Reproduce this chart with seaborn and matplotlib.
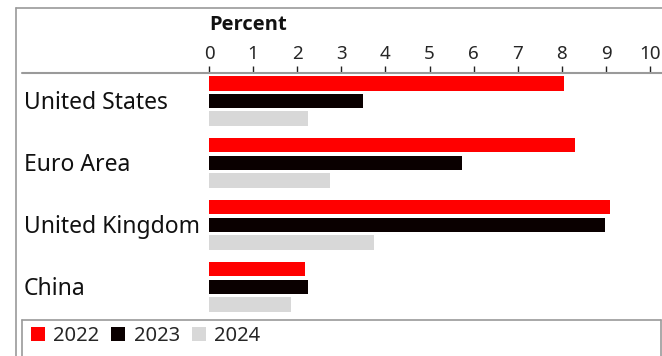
import matplotlib
matplotlib.use("Agg")
import matplotlib.pyplot as plt
from matplotlib.lines import Line2D
from matplotlib.patches import Patch
import seaborn as sns
import pandas as pd

categories = ["United States", "Euro Area", "United Kingdom", "China"]
years = ["2022", "2023", "2024"]
values_2022 = [8.05, 8.3, 9.1, 2.18]
values_2023 = [3.5, 5.73, 8.98, 2.25]
values_2024 = [2.25, 2.75, 3.73, 1.86]
xticks = [0, 1, 2, 3, 4, 5, 6, 7, 8, 9, 10]
colors = ["#ff0000", "#0a0000", "#d8d8d8"]

rows = []
for yr, vals in zip(years, [values_2022, values_2023, values_2024]):
    for c, v in zip(categories, vals):
        rows.append({"country": c, "year": yr, "value": v})
df = pd.DataFrame(rows)

sns.set_style("white")
plt.rcParams["font.family"] = ["Noto Sans", "DejaVu Sans"]

W, H = 662, 356
fig = plt.figure(figsize=(W / 100, H / 100), dpi=100)
ax = fig.add_axes([209 / W, 1 - 319 / H, (W - 209) / W, (319 - 73) / H])

sns.barplot(data=df, y="country", x="value", hue="year", orient="h",
            order=categories, hue_order=years, palette=colors,
            width=0.85, gap=0.18, ax=ax, legend=False, linewidth=0,
            saturation=1)

ax.set_xlim(0, 10.27)
ax.set_ylim(3.52, -0.45)
for s in ax.spines.values():
    s.set_visible(False)
ax.xaxis.tick_top()
ax.set_xticks(xticks)
ax.set_xticklabels([str(t) for t in xticks], fontsize=13.5)
ax.tick_params(axis="x", direction="out", length=5, width=1, color="#222222",
               pad=2, top=True, bottom=False)
ax.set_yticks([])
ax.set_xlabel("")
ax.set_ylabel("")

for i, c in enumerate(categories):
    ax.text((24 - 209) / (W - 209), i + 0.03, c, transform=ax.get_yaxis_transform(),
            ha="left", va="center", fontsize=16.5, color="#111111", clip_on=False)

fig.text(209 / W, 1 - 25 / H, "Percent", fontsize=14.5, fontweight="bold",
         family=["Open Sans", "DejaVu Sans"],
         ha="left", va="center", color="#111111")

gray = "#9a9a9a"
# outer frame
fig.add_artist(Line2D([16 / W, 16 / W], [0, 1 - 8 / H], color=gray, lw=1.2))
fig.add_artist(Line2D([16 / W, 1], [1 - 8 / H, 1 - 8 / H], color=gray, lw=1.2))
# axis line
fig.add_artist(Line2D([22 / W, 1], [1 - 73 / H, 1 - 73 / H], color=gray, lw=1.5))
# legend box
fig.add_artist(Line2D([22 / W, 22 / W], [0, 1 - 320 / H], color=gray, lw=1.2))
fig.add_artist(Line2D([22 / W, 661 / W], [1 - 320 / H, 1 - 320 / H], color=gray, lw=1.2))
fig.add_artist(Line2D([661 / W, 661 / W], [0, 1 - 320 / H], color=gray, lw=1.2))

handles = [Patch(facecolor=col, edgecolor="none", label=y) for col, y in zip(colors, years)]
fig.legend(handles=handles, loc="center left", bbox_to_anchor=(31 / W, 1 - 336 / H),
           ncol=3, frameon=False, fontsize=14.5, handlelength=0.7, handleheight=0.7,
           handletextpad=0.4, columnspacing=0.6, borderaxespad=0, borderpad=0)

fig.savefig("out.png", dpi=100)
